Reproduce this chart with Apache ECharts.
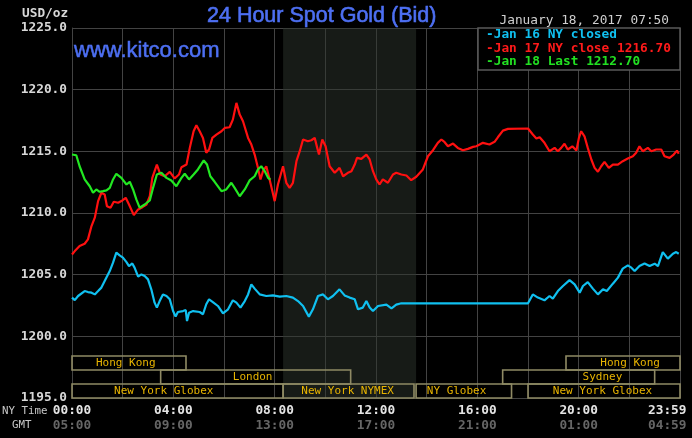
<!DOCTYPE html>
<html><head><meta charset="utf-8">
<script src="https://cdn.jsdelivr.net/npm/echarts@6/dist/echarts.min.js"></script>
<style>html,body{margin:0;padding:0;background:#000}#c{width:692px;height:438px}</style>
</head><body><div id="c"></div>
<script>
// ---- DATA ----
const yTicks = [1195, 1200, 1205, 1210, 1215, 1220, 1225];
const nyTimeLabels = {0:'00:00',4:'04:00',8:'08:00',12:'12:00',16:'16:00',20:'20:00',24:'23:59'};
const gmtLabels = {0:'05:00',4:'09:00',8:'13:00',12:'17:00',16:'21:00',20:'01:00',24:'04:59'};
const legendTexts = ['-Jan 16 NY closed','-Jan 17 NY close 1216.70','-Jan 18 Last 1212.70'];
const jan16 = [[0,1203.14],[0.11,1202.94],[0.24,1203.27],[0.50,1203.67],[0.63,1203.59],[0.77,1203.54],[0.90,1203.40],[1.03,1203.67],[1.16,1203.95],[1.29,1204.48],[1.49,1205.29],[1.62,1205.97],[1.75,1206.78],[1.88,1206.56],[2.01,1206.38],[2.15,1206.02],[2.25,1205.70],[2.38,1205.91],[2.47,1205.57],[2.61,1204.84],[2.74,1205.02],[2.87,1204.89],[3.00,1204.62],[3.13,1203.81],[3.26,1202.73],[3.35,1202.33],[3.46,1202.86],[3.59,1203.40],[3.73,1203.27],[3.86,1203.00],[3.99,1202.05],[4.09,1201.60],[4.18,1201.97],[4.38,1202.05],[4.49,1202.13],[4.54,1201.24],[4.62,1201.92],[4.78,1202.05],[5.04,1201.97],[5.17,1201.79],[5.30,1202.60],[5.41,1203.00],[5.56,1202.78],[5.76,1202.46],[5.96,1201.87],[6.16,1202.19],[6.35,1202.92],[6.49,1202.73],[6.65,1202.33],[6.82,1202.86],[6.95,1203.40],[7.08,1204.21],[7.21,1203.87],[7.41,1203.40],[7.67,1203.27],[7.93,1203.32],[8.20,1203.22],[8.46,1203.27],[8.72,1203.14],[8.92,1202.86],[9.12,1202.46],[9.35,1201.60],[9.51,1202.19],[9.71,1203.27],[9.91,1203.40],[10.10,1203.00],[10.30,1203.27],[10.56,1203.81],[10.76,1203.32],[10.96,1203.14],[11.16,1203.00],[11.29,1202.19],[11.48,1202.33],[11.62,1202.86],[11.75,1202.33],[11.88,1202.05],[12.08,1202.46],[12.14,1202.51],[12.41,1202.57],[12.61,1202.27],[12.80,1202.57],[13.00,1202.68],[18.00,1202.68],[18.19,1203.40],[18.39,1203.14],[18.65,1202.92],[18.85,1203.27],[18.98,1203.06],[19.18,1203.67],[19.38,1204.08],[19.64,1204.56],[19.84,1204.21],[20.04,1203.54],[20.17,1204.08],[20.36,1204.40],[20.56,1203.87],[20.76,1203.40],[20.96,1203.81],[21.11,1203.67],[21.35,1204.27],[21.55,1204.76],[21.74,1205.49],[21.94,1205.75],[22.08,1205.57],[22.21,1205.29],[22.40,1205.70],[22.60,1205.91],[22.80,1205.70],[23.00,1205.89],[23.13,1205.70],[23.32,1206.83],[23.52,1206.30],[23.72,1206.70],[23.85,1206.83],[23.95,1206.70]];
const jan17 = [[0,1206.64],[0.11,1206.91],[0.30,1207.32],[0.50,1207.51],[0.63,1207.86],[0.77,1208.94],[0.90,1209.62],[1.03,1210.96],[1.16,1211.64],[1.29,1211.50],[1.38,1210.55],[1.52,1210.43],[1.65,1210.91],[1.82,1210.83],[1.99,1211.02],[2.12,1211.23],[2.25,1210.69],[2.44,1209.83],[2.61,1210.29],[2.78,1210.47],[2.94,1210.69],[3.07,1211.36],[3.17,1212.85],[3.35,1213.93],[3.49,1213.12],[3.66,1212.98],[3.86,1213.34],[4.05,1212.80],[4.22,1213.12],[4.32,1213.71],[4.52,1213.93],[4.65,1215.28],[4.80,1216.63],[4.91,1217.11],[5.04,1216.63],[5.17,1216.09],[5.30,1214.88],[5.41,1215.15],[5.54,1216.09],[5.70,1216.36],[5.90,1216.63],[6.03,1216.90],[6.22,1216.95],[6.35,1217.57],[6.49,1218.93],[6.62,1217.98],[6.75,1217.44],[6.95,1216.09],[7.08,1215.55],[7.21,1214.74],[7.34,1213.66],[7.44,1212.72],[7.54,1213.39],[7.67,1213.79],[7.80,1212.72],[7.91,1211.77],[8.00,1210.96],[8.13,1212.31],[8.33,1213.79],[8.46,1212.45],[8.59,1212.04],[8.72,1212.45],[8.86,1214.20],[8.99,1215.01],[9.12,1215.96],[9.31,1215.82],[9.45,1215.90],[9.58,1216.09],[9.68,1215.28],[9.75,1214.74],[9.88,1215.96],[10.01,1215.41],[10.17,1213.79],[10.37,1213.26],[10.56,1213.66],[10.70,1212.98],[10.89,1213.26],[11.03,1213.39],[11.16,1213.93],[11.25,1214.47],[11.42,1214.39],[11.62,1214.74],[11.75,1214.34],[11.88,1213.39],[12.01,1212.72],[12.14,1212.31],[12.27,1212.72],[12.47,1212.45],[12.67,1213.12],[12.80,1213.26],[13.00,1213.12],[13.20,1213.04],[13.39,1212.66],[13.59,1212.94],[13.85,1213.53],[14.05,1214.60],[14.25,1215.09],[14.44,1215.69],[14.58,1215.96],[14.71,1215.74],[14.84,1215.41],[15.04,1215.63],[15.23,1215.28],[15.43,1215.09],[15.63,1215.20],[15.83,1215.36],[15.96,1215.41],[16.22,1215.69],[16.48,1215.55],[16.68,1215.77],[16.81,1216.14],[17.01,1216.68],[17.21,1216.82],[18.00,1216.85],[18.19,1216.36],[18.33,1216.04],[18.46,1216.14],[18.65,1215.69],[18.85,1215.01],[19.05,1215.28],[19.18,1215.01],[19.31,1215.28],[19.44,1215.61],[19.57,1215.15],[19.75,1215.41],[19.91,1215.06],[20.01,1216.09],[20.10,1216.63],[20.23,1216.22],[20.36,1215.28],[20.50,1214.34],[20.63,1213.66],[20.76,1213.34],[20.89,1213.79],[21.02,1214.15],[21.19,1213.66],[21.35,1213.93],[21.55,1213.93],[21.74,1214.20],[21.94,1214.42],[22.14,1214.60],[22.27,1214.88],[22.40,1215.41],[22.53,1215.01],[22.73,1215.28],[22.87,1215.01],[23.06,1215.15],[23.26,1215.15],[23.39,1214.60],[23.59,1214.47],[23.75,1214.74],[23.88,1215.06],[23.95,1214.80]];
const jan18 = [[0,1214.74],[0.17,1214.68],[0.30,1213.79],[0.50,1212.72],[0.70,1212.17],[0.83,1211.64],[0.96,1211.91],[1.09,1211.72],[1.22,1211.77],[1.36,1211.83],[1.49,1212.04],[1.62,1212.72],[1.75,1213.18],[1.95,1212.85],[2.15,1212.31],[2.28,1212.53],[2.41,1211.91],[2.54,1211.10],[2.67,1210.43],[2.87,1210.69],[3.07,1211.02],[3.20,1212.04],[3.35,1213.12],[3.53,1213.26],[3.73,1212.85],[3.92,1212.64],[4.12,1212.17],[4.32,1212.85],[4.45,1213.18],[4.62,1212.72],[4.80,1213.12],[4.97,1213.53],[5.20,1214.26],[5.33,1213.93],[5.46,1212.98],[5.63,1212.53],[5.90,1211.77],[6.09,1211.91],[6.29,1212.45],[6.42,1212.04],[6.62,1211.36],[6.82,1211.91],[7.01,1212.64],[7.21,1212.98],[7.34,1213.53],[7.47,1213.79],[7.61,1213.39],[7.74,1212.85],[7.83,1212.70]];
const comexHours = [8.333, 13.583];
const sessionNames = ['Hong Kong','London','New York Globex','New York NYMEX','NY Globex','Sydney','Hong Kong','New York Globex'];
const sessionStart = [0, 3.5, 0, 8.333, 13.583, 17, 19.5, 18];
const sessionEnd   = [4.5, 11, 8.333, 13.5, 17.35, 23, 24, 24];
const sessionRow   = [0, 1, 2, 2, 2, 1, 0, 2];
const sessionLabelAt = [2.12, 7.13, 3.62, 10.88, 15.18, 20.94, 22.03, 20.94];

// ---- CHART ----
const MONO = "'DejaVu Sans Mono', monospace";
const SANS = "'Liberation Sans', Arial, sans-serif";
const gridColor = '#434343';
const blueTitle = '#4d6ff2';
const chart = echarts.init(document.getElementById('c'));
const sessionData = sessionNames.map((n, i) => [sessionStart[i], sessionEnd[i], sessionRow[i], sessionLabelAt[i]]);

const option = {
  backgroundColor: '#000',
  animation: false,
  grid: [
    {left: 72, top: 28, width: 608, height: 370, show: false, containLabel: false, outerBoundsMode: 'none'},
    {left: 72, top: 356, width: 608, height: 42, show: false, containLabel: false, outerBoundsMode: 'none'}
  ],
  xAxis: [
    {type: 'value', gridIndex: 0, min: 0, max: 24, interval: 2,
     axisLine: {show: true, lineStyle: {color: gridColor}}, axisTick: {show: false},
     splitLine: {show: true, lineStyle: {color: gridColor, width: 1}},
     axisLabel: {show: true, margin: 5, showMinLabel: true, showMaxLabel: true, hideOverlap: false,
       formatter: v => {
         if (nyTimeLabels[v] === undefined) return '';
         if (v === 24) return '{az|' + nyTimeLabels[v] + '}\n{bz|' + gmtLabels[v] + '}';
         return '{a|' + nyTimeLabels[v] + '}\n{b|' + gmtLabels[v] + '}';
       },
       rich: {
         a: {color: '#e4e4e4', fontFamily: MONO, fontWeight: 'bold', fontSize: 12.8, lineHeight: 15},
         b: {color: '#666', fontFamily: MONO, fontWeight: 'bold', fontSize: 12.8, lineHeight: 15},
         az: {color: '#e4e4e4', fontFamily: MONO, fontWeight: 'bold', fontSize: 12.8, lineHeight: 15, width: 64, align: 'left'},
         bz: {color: '#666', fontFamily: MONO, fontWeight: 'bold', fontSize: 12.8, lineHeight: 15, width: 64, align: 'left'}
       }}},
    {type: 'value', gridIndex: 1, min: 0, max: 24, show: false}
  ],
  yAxis: [
    {type: 'value', gridIndex: 0, min: yTicks[0], max: yTicks[yTicks.length - 1], interval: 5,
     axisLine: {show: true, lineStyle: {color: gridColor}}, axisTick: {show: false},
     splitLine: {show: true, lineStyle: {color: gridColor, width: 1}},
     axisLabel: {margin: 5, color: '#d8d8d8', fontFamily: MONO, fontWeight: 'bold', fontSize: 12.8,
       formatter: v => v.toFixed(1)}},
    {type: 'value', gridIndex: 1, min: 0, max: 3, inverse: true, show: false}
  ],
  graphic: [
    {type: 'text', x: 207, y: 16, z: 10, style: {text: '24 Hour Spot Gold (Bid)', fill: blueTitle, stroke: blueTitle, lineWidth: 0.6, font: '21.5px ' + SANS, textVerticalAlign: 'middle', verticalAlign: 'middle'}},
    {type: 'text', x: 74, y: 51, z: 10, style: {text: 'www.kitco.com', fill: blueTitle, stroke: blueTitle, lineWidth: 0.5, font: '22px ' + SANS, textVerticalAlign: 'middle', verticalAlign: 'middle'}},
    {type: 'text', x: 22, y: 14, z: 10, style: {text: 'USD/oz', fill: '#d8d8d8', font: 'bold 12.8px ' + MONO, textVerticalAlign: 'middle', verticalAlign: 'middle'}},
    {type: 'text', x: 669, y: 21, z: 10, style: {text: 'January 18, 2017 07:50', fill: '#d0d0d0', font: '12.8px ' + MONO, textAlign: 'right', align: 'right', textVerticalAlign: 'middle', verticalAlign: 'middle'}},
    {type: 'rect', z: 10, shape: {x: 478, y: 28, width: 202, height: 42}, style: {fill: '#000', stroke: '#5a5a5a', lineWidth: 1.5}},
    {type: 'text', x: 486, y: 35, z: 11, style: {text: legendTexts[0], fill: '#10c0f0', font: 'bold 12.8px ' + MONO, textVerticalAlign: 'middle', verticalAlign: 'middle'}},
    {type: 'text', x: 486, y: 48.7, z: 11, style: {text: legendTexts[1], fill: '#ff1a1a', font: 'bold 12.8px ' + MONO, textVerticalAlign: 'middle', verticalAlign: 'middle'}},
    {type: 'text', x: 486, y: 62, z: 11, style: {text: legendTexts[2], fill: '#22e022', font: 'bold 12.8px ' + MONO, textVerticalAlign: 'middle', verticalAlign: 'middle'}},
    {type: 'text', x: 2, y: 411, z: 10, style: {text: 'NY Time', fill: '#c8c8c8', font: '10.8px ' + MONO, textVerticalAlign: 'middle', verticalAlign: 'middle'}},
    {type: 'text', x: 12, y: 425, z: 10, style: {text: 'GMT', fill: '#c8c8c8', font: '10.8px ' + MONO, textVerticalAlign: 'middle', verticalAlign: 'middle'}}
  ],
  series: [
    {type: 'line', xAxisIndex: 0, yAxisIndex: 0, data: jan16, showSymbol: false, symbol: 'none',
     lineStyle: {color: '#10c0f0', width: 2.2}, z: 3,
     markArea: {silent: true, itemStyle: {color: 'rgba(46,54,46,0.5)'}, data: [[{xAxis: comexHours[0]}, {xAxis: comexHours[1]}]]}},
    {type: 'line', xAxisIndex: 0, yAxisIndex: 0, data: jan17, showSymbol: false, symbol: 'none',
     lineStyle: {color: '#ff1010', width: 2.2}, z: 4},
    {type: 'line', xAxisIndex: 0, yAxisIndex: 0, data: jan18, showSymbol: false, symbol: 'none',
     lineStyle: {color: '#22e822', width: 2.2}, z: 5},
    {type: 'custom', xAxisIndex: 1, yAxisIndex: 1, data: sessionData, encode: {x: [0, 1], y: 2}, z: 6, silent: true,
     renderItem: (params, api) => {
       const s = api.value(0), e = api.value(1), r = api.value(2), lab = api.value(3);
       const p0 = api.coord([s, r]);
       const p1 = api.coord([e, r + 1]);
       const pl = api.coord([lab, r + 0.5]);
       return {type: 'group', children: [
         {type: 'rect', shape: {x: p0[0], y: p0[1], width: p1[0] - p0[0], height: p1[1] - p0[1]},
          style: {fill: 'none', stroke: '#8f8a64', lineWidth: 1.6}},
         {type: 'text', x: pl[0], y: pl[1] + 0.5,
          style: {text: sessionNames[params.dataIndex], fill: '#e8b400', font: '11px ' + MONO, align: 'center', verticalAlign: 'middle'}}
       ]};
     }}
  ]
};
chart.setOption(option);
</script>
</body></html>
